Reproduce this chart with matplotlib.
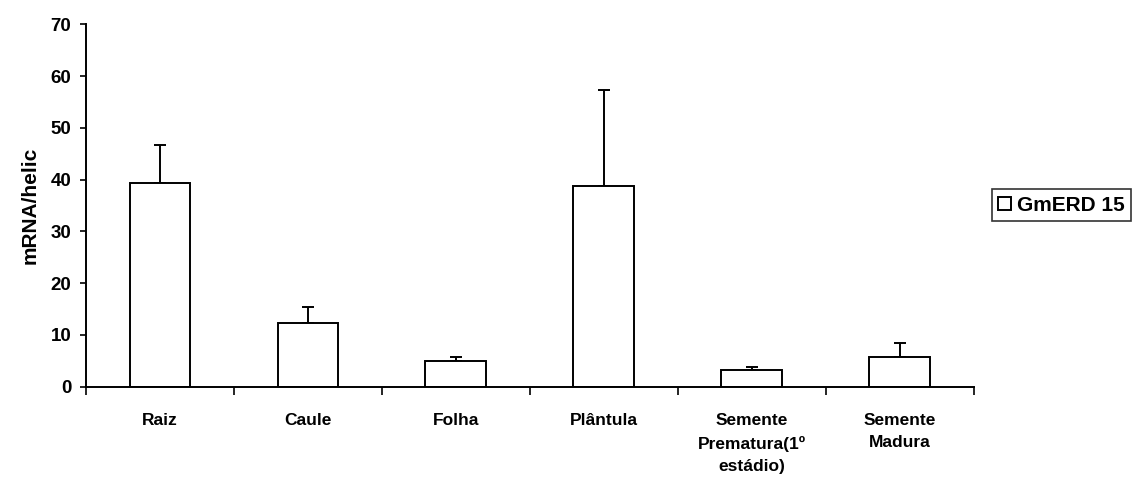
import matplotlib
matplotlib.use('Agg')
import matplotlib.pyplot as plt
import numpy as np

categories = ['Raiz', 'Caule', 'Folha', 'Plântula',
              'Semente\nPrematura(1º\nestádio)', 'Semente\nMadura']
values = [39.4, 12.4, 4.9, 38.8, 3.2, 5.8]
errors = [7.2, 2.9, 0.9, 18.5, 0.7, 2.7]
series_name = 'GmERD 15'
y_ticks = [0, 10, 20, 30, 40, 50, 60, 70]

plt.rcParams['font.family'] = ['Liberation Sans', 'DejaVu Sans']
plt.rcParams['font.weight'] = 'bold'

fig = plt.figure(figsize=(11.36, 4.86), dpi=100)
ax = fig.add_axes([0.0757, 0.2043, 0.7813, 0.7457])

x = np.arange(len(categories))
ax.bar(x, values, width=0.41, color='white', edgecolor='black', linewidth=1.4,
       label=series_name, zorder=2)
ax.errorbar(x, values, yerr=[np.zeros(len(errors)), errors], fmt='none',
            ecolor='black', elinewidth=1.4, capsize=4.5, capthick=1.4, zorder=1)

ax.set_xlim(-0.5, len(categories) - 0.5)
ax.set_ylim(0, 70)
ax.set_yticks(y_ticks)
# category boundaries carry the tick marks, centres carry the labels
ax.set_xticks(np.arange(len(categories) + 1) - 0.5, minor=False)
ax.set_xticklabels([])
ax.set_xticks(x, minor=True)
ax.set_xticklabels(categories, minor=True, fontsize=12.5, fontweight='bold',
                   linespacing=1.6)
ax.tick_params(axis='x', which='major', direction='out', length=6, width=1.2)
ax.tick_params(axis='x', which='minor', length=0, pad=19)
ax.tick_params(axis='y', direction='out', length=4.5, width=1.2,
               labelsize=13.5, pad=6)
for lab in ax.get_yticklabels():
    lab.set_fontweight('bold')

for side in ['top', 'right']:
    ax.spines[side].set_visible(False)
for side in ['left', 'bottom']:
    ax.spines[side].set_linewidth(1.4)

ax.set_ylabel('mRNA/helic', fontsize=15, fontweight='bold', labelpad=8)

leg = fig.legend(loc='center left', bbox_to_anchor=(992 / 1136, 0.578),
                 frameon=True, fancybox=False, edgecolor='black',
                 prop={'size': 15, 'weight': 'bold'}, handlelength=0.6,
                 handleheight=0.6, handletextpad=0.3, borderpad=0.3,
                 borderaxespad=0)
leg.get_frame().set_linewidth(1.2)

fig.savefig('out.png', dpi=100)
